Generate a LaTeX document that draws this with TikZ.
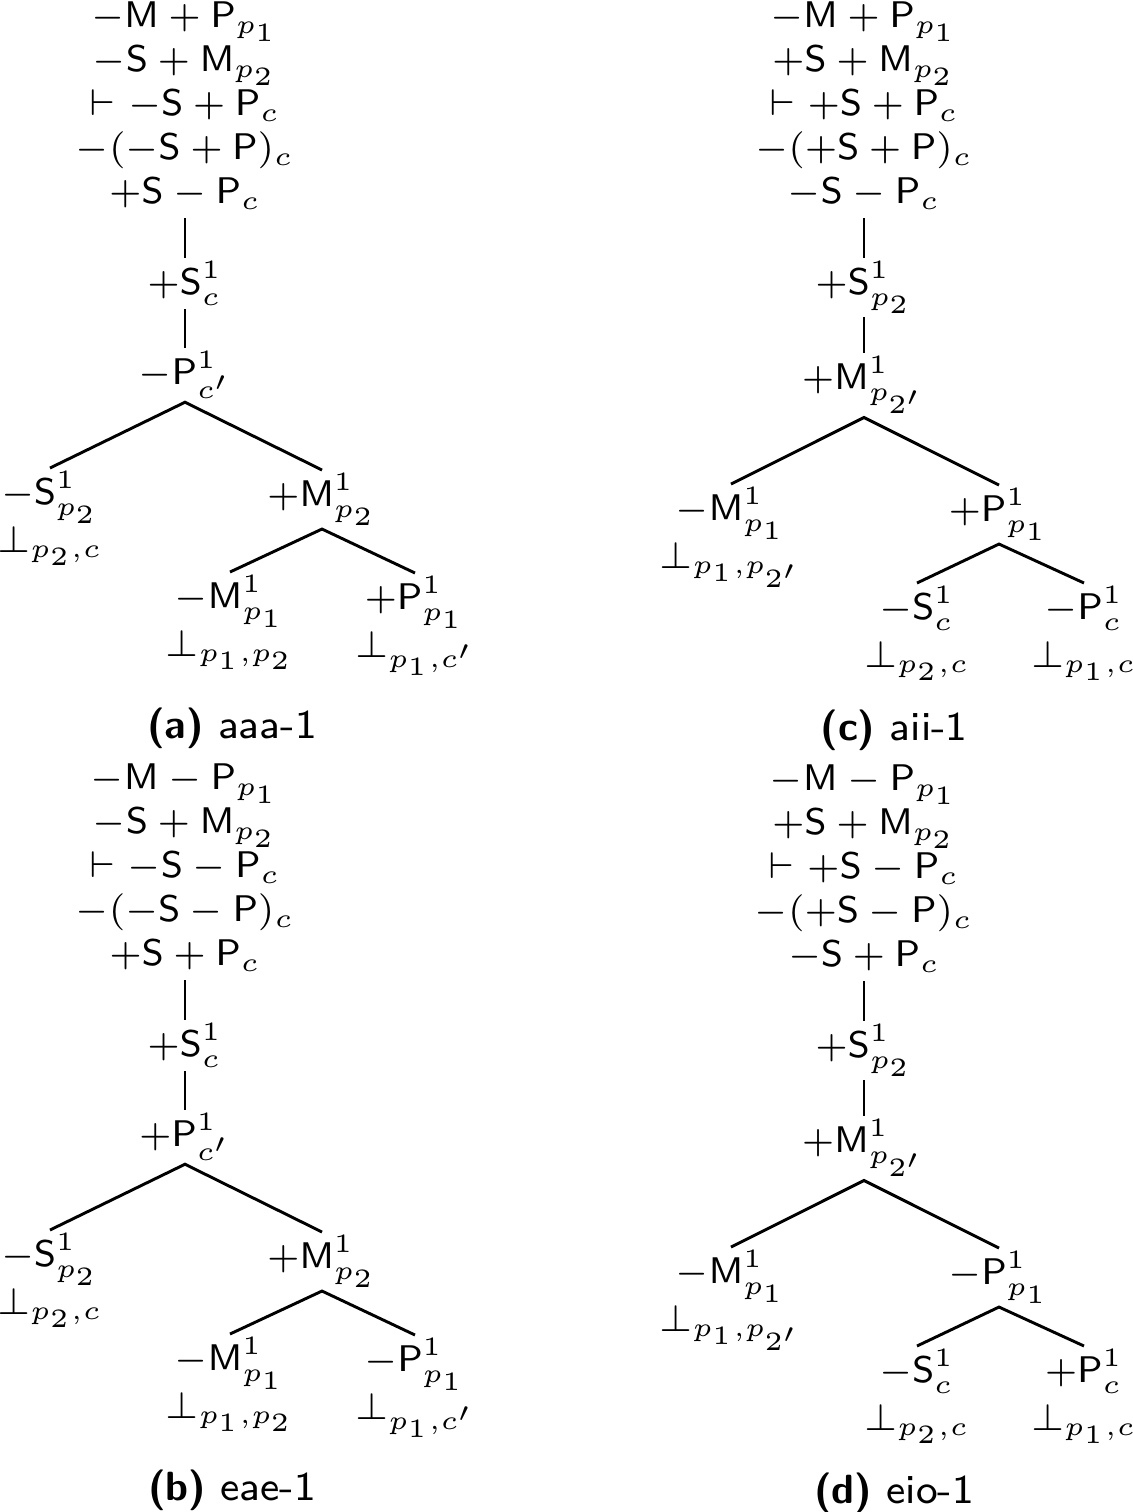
\documentclass[tikz,border=0pt]{standalone}
\usepackage{amsmath}
\usepackage{amssymb}

\newcommand{\sfM}{\mathsf{M}}
\newcommand{\sfS}{\mathsf{S}}
\newcommand{\sfP}{\mathsf{P}}

\tikzset{
  premises/.style={align=center, inner sep=1.5pt, font=\fontsize{7}{8.3}\selectfont},
  lit/.style={align=center, inner sep=0.5pt, font=\fontsize{7}{9}\selectfont},
  branch/.style={line width=0.55pt},
  subcap/.style={font=\fontsize{7.7}{9}\sffamily, anchor=base}
}

\begin{document}
\begin{tikzpicture}[x=0.1887pt, y=-0.1887pt]
\useasboundingbox (0,0) rectangle (1133,1512);

% (a) aaa-1
\node[premises, anchor=south] (ta) at (185,218)
  {$-\sfM + \sfP_{p_1}$\\ $-\sfS + \sfM_{p_2}$\\ $\vdash -\sfS + \sfP_c$\\ $-(-\sfS + \sfP)_c$\\ $+\sfS - \sfP_c$};
\node[lit, anchor=north] (sa) at (185,258) {$+\sfS^1_c$};
\node[lit, anchor=north] (pa) at (185,348) {$-\sfP^1_{c'}$};
\node[lit, anchor=north] (la) at (50,468) {$-\sfS^1_{p_2}$\\ $\bot_{p_2,c}$};
\node[lit, anchor=north] (ma) at (322,470) {$+\sfM^1_{p_2}$};
\node[lit, anchor=north] (mla) at (230,572) {$-\sfM^1_{p_1}$\\ $\bot_{p_1,p_2}$};
\node[lit, anchor=north] (mra) at (415,573) {$+\sfP^1_{p_1}$\\ $\bot_{p_1,c'}$};
\draw[branch] (ta) -- (sa) (sa) -- (pa);
\draw[branch] (la.north) -- (pa.south) -- (ma.north);
\draw[branch] (mla.north) -- (ma.south) -- (mra.north);
\node[subcap] (capa) at (232,738) {\textbf{(a)} aaa-1};

% (b) eae-1
\begin{scope}[shift={(0,762)}]
\node[premises, anchor=south] (tb) at (185,218)
  {$-\sfM - \sfP_{p_1}$\\ $-\sfS + \sfM_{p_2}$\\ $\vdash -\sfS - \sfP_c$\\ $-(-\sfS - \sfP)_c$\\ $+\sfS + \sfP_c$};
\node[lit, anchor=north] (sb) at (185,258) {$+\sfS^1_c$};
\node[lit, anchor=north] (pb) at (185,348) {$+\sfP^1_{c'}$};
\node[lit, anchor=north] (lb) at (50,468) {$-\sfS^1_{p_2}$\\ $\bot_{p_2,c}$};
\node[lit, anchor=north] (mb) at (322,470) {$+\sfM^1_{p_2}$};
\node[lit, anchor=north] (mlb) at (230,572) {$-\sfM^1_{p_1}$\\ $\bot_{p_1,p_2}$};
\node[lit, anchor=north] (mrb) at (415,573) {$-\sfP^1_{p_1}$\\ $\bot_{p_1,c'}$};
\draw[branch] (tb) -- (sb) (sb) -- (pb);
\draw[branch] (lb.north) -- (pb.south) -- (mb.north);
\draw[branch] (mlb.north) -- (mb.south) -- (mrb.north);
\node[subcap] (capb) at (232,738) {\textbf{(b)} eae-1};
\end{scope}

% (c) aii-1
\node[premises, anchor=south] (tc) at (864,218)
  {$-\sfM + \sfP_{p_1}$\\ $+\sfS + \sfM_{p_2}$\\ $\vdash +\sfS + \sfP_c$\\ $-(+\sfS + \sfP)_c$\\ $-\sfS - \sfP_c$};
\node[lit, anchor=north] (sc) at (864,258) {$+\sfS^1_{p_2}$};
\node[lit, anchor=north] (mc) at (864,353) {$+\sfM^1_{p_{2'}}$};
\node[lit, anchor=north] (lc) at (731,484) {$-\sfM^1_{p_1}$\\ $\bot_{p_1,p_{2'}}$};
\node[lit, anchor=north] (pc) at (999,485) {$+\sfP^1_{p_1}$};
\node[lit, anchor=north] (plc) at (917,583) {$-\sfS^1_c$\\ $\bot_{p_2,c}$};
\node[lit, anchor=north] (prc) at (1084,583) {$-\sfP^1_c$\\ $\bot_{p_1,c}$};
\draw[branch] (tc) -- (sc) (sc) -- (mc);
\draw[branch] (lc.north) -- (mc.south) -- (pc.north);
\draw[branch] (plc.north) -- (pc.south) -- (prc.north);
\node[subcap] (capc) at (894,740) {\textbf{(c)} aii-1};

% (d) eio-1
\begin{scope}[shift={(0,763)}]
\node[premises, anchor=south] (td) at (864,218)
  {$-\sfM - \sfP_{p_1}$\\ $+\sfS + \sfM_{p_2}$\\ $\vdash +\sfS - \sfP_c$\\ $-(+\sfS - \sfP)_c$\\ $-\sfS + \sfP_c$};
\node[lit, anchor=north] (sd) at (864,258) {$+\sfS^1_{p_2}$};
\node[lit, anchor=north] (md) at (864,353) {$+\sfM^1_{p_{2'}}$};
\node[lit, anchor=north] (ld) at (731,484) {$-\sfM^1_{p_1}$\\ $\bot_{p_1,p_{2'}}$};
\node[lit, anchor=north] (pd) at (999,485) {$-\sfP^1_{p_1}$};
\node[lit, anchor=north] (pld) at (917,583) {$-\sfS^1_c$\\ $\bot_{p_2,c}$};
\node[lit, anchor=north] (prd) at (1084,583) {$+\sfP^1_c$\\ $\bot_{p_1,c}$};
\draw[branch] (td) -- (sd) (sd) -- (md);
\draw[branch] (ld.north) -- (md.south) -- (pd.north);
\draw[branch] (pld.north) -- (pd.south) -- (prd.north);
\node[subcap] (capd) at (894,740) {\textbf{(d)} eio-1};
\end{scope}
\end{tikzpicture}
\end{document}
